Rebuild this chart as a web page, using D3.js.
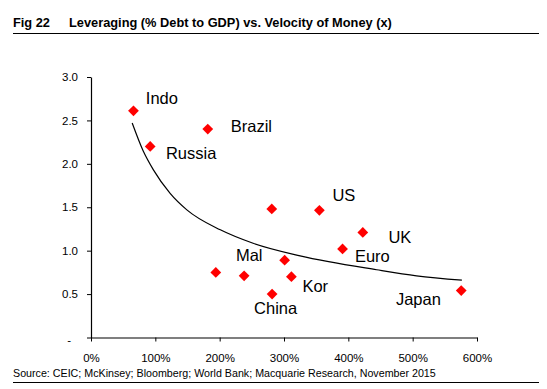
<!DOCTYPE html>
<html>
<head>
<meta charset="utf-8">
<script src="https://cdn.jsdelivr.net/npm/d3@7"></script>
<style>
  body { margin: 0; background: #fff; }
  text { font-family: "Liberation Sans", Arial, sans-serif; fill: #000; }
</style>
</head>
<body>
<div id="chart"></div>
<script>
    var width = 547,
        height = 389;

    // countries: debt to GDP (x, as multiple of 100%) and velocity of money (y)
    var names = ["Indo", "Russia", "Brazil", "", "US", "UK", "Euro", "Mal", "Kor", "China", "Japan", "", ""];
    var debt = [0.66, 0.92, 1.815, 2.81, 3.55, 4.225, 3.91, 3.01, 3.115, 2.815, 5.755, 1.94, 2.38];
    var velocity = [2.61, 2.20, 2.40, 1.48, 1.465, 1.21, 1.02, 0.89, 0.70, 0.50, 0.54, 0.75, 0.71];

    // trend line
    var trendX = [0.64, 0.81, 0.97, 1.23, 1.49, 2.01, 2.52, 3.25, 4.44, 5.06, 5.765];
    var trendY = [2.47, 2.15, 1.93, 1.66, 1.47, 1.24, 1.085, 0.94, 0.78, 0.71, 0.66];

    var xTicks = [0, 1, 2, 3, 4, 5, 6];
    var yTicks = [0, 0.5, 1, 1.5, 2, 2.5, 3];

    // label placement relative to the marker (px)
    var labelOff = {
        "Indo": [12.4, -6.7], "Russia": [15.7, 12.3], "Brazil": [23, 3],
        "US": [13, -9.6], "UK": [25.6, 11], "Euro": [12.4, 12.7],
        "Mal": [-48.7, 1.2], "Kor": [11, 15.6], "China": [-18, 19.8],
        "Japan": [-65.3, 14.3]
    };

    var svg = d3.select("#chart").append("svg")
        .attr("width", width)
        .attr("height", height);

    var x = d3.scaleLinear().domain([0, 6]).range([91, 477]);
    var y = d3.scaleLinear().domain([0, 3]).range([337.5, 77]);

    // title + rules
    var title = svg.append("text")
        .attr("y", 27)
        .style("font-size", "12.8px")
        .style("font-weight", "bold");
    title.append("tspan").attr("x", 13).text("Fig 22");
    title.append("tspan").attr("x", 69).text("Leveraging (% Debt to GDP) vs. Velocity of Money (x)");
    svg.append("line")
        .attr("x1", 13).attr("x2", 539).attr("y1", 33.5).attr("y2", 33.5)
        .style("stroke", "#000").style("stroke-width", 1);

    svg.append("text")
        .attr("x", 13).attr("y", 376.5)
        .style("font-size", "10.7px")
        .text("Source: CEIC; McKinsey; Bloomberg; World Bank; Macquarie Research, November 2015");
    svg.append("line")
        .attr("x1", 13).attr("x2", 539).attr("y1", 382.5).attr("y2", 382.5)
        .style("stroke", "#000").style("stroke-width", 1);

    // axes
    var xAxis = svg.append("g")
        .attr("transform", "translate(0," + y(0) + ")")
        .call(d3.axisBottom(x).tickValues(xTicks).tickSize(4).tickSizeOuter(0)
            .tickFormat(function (d) { return d * 100 + "%"; }));
    xAxis.selectAll("text").attr("dy", "1.5em").style("font-size", "11.5px");

    var yAxis = svg.append("g")
        .attr("transform", "translate(" + x(0) + ",0)")
        .call(d3.axisLeft(y).tickValues(yTicks).tickSize(4).tickSizeOuter(0)
            .tickFormat(function (d) { return d == 0 ? "-" : d3.format(".1f")(d); }));
    yAxis.selectAll("text").style("font-size", "11.5px")
        .attr("x", function (d) { return d == 0 ? -20 : -13; })
        .attr("dy", function (d) { return d == 0 ? "0.5em" : "0.32em"; });

    svg.selectAll(".domain, .tick line").style("stroke", "#000");
    xAxis.select(".domain").style("stroke-width", 1.2);
    yAxis.select(".domain").style("stroke-width", 1.2);

    // trend
    var line = d3.line()
        .x(function (d, i) { return x(trendX[i]); })
        .y(function (d, i) { return y(trendY[i]); })
        .curve(d3.curveMonotoneX);
    svg.append("path")
        .datum(trendX)
        .attr("d", line)
        .style("fill", "none")
        .style("stroke", "#000")
        .style("stroke-width", 1.2);

    // markers
    var sym = d3.symbol().type(d3.symbolSquare).size(58);
    svg.selectAll("path.pt")
        .data(debt)
        .enter().append("path")
        .attr("class", "pt")
        .attr("d", sym)
        .attr("transform", function (d, i) {
            return "translate(" + x(d) + "," + y(velocity[i]) + ") rotate(45)";
        })
        .style("fill", "#ff0000");

    // labels
    svg.selectAll("text.lbl")
        .data(names.filter(function (n) { return n; }))
        .enter().append("text")
        .attr("class", "lbl")
        .attr("x", function (n) { var i = names.indexOf(n); return x(debt[i]) + labelOff[n][0]; })
        .attr("y", function (n) { var i = names.indexOf(n); return y(velocity[i]) + labelOff[n][1]; })
        .style("font-size", "16.5px")
        .text(function (n) { return n; });
</script>
</body>
</html>
